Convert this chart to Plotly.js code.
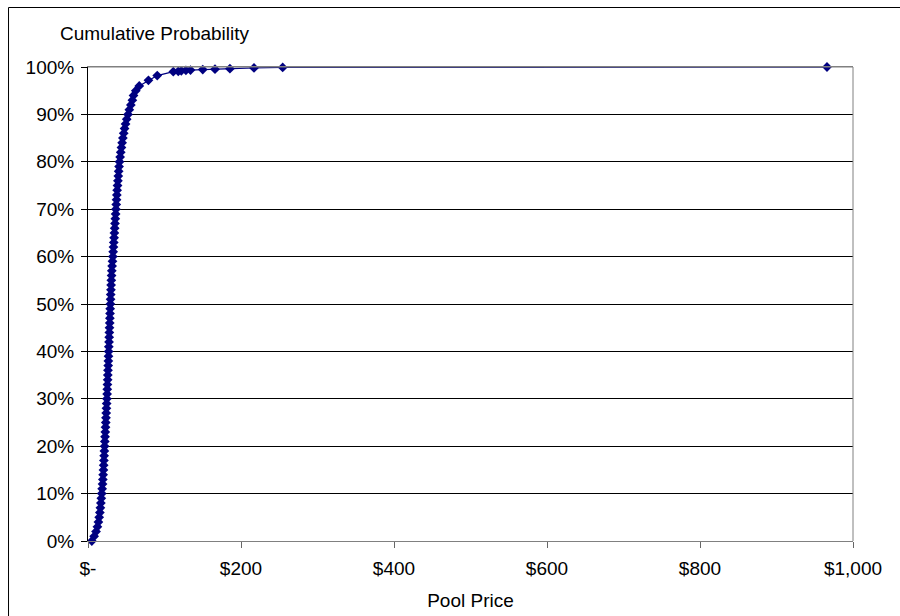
<!DOCTYPE html>
<html>
<head>
<meta charset="utf-8">
<script src="https://cdn.plot.ly/plotly-3.0.1.min.js"></script>
<style>
  html, body { margin: 0; padding: 0; background: #fff; }
  #chart { width: 900px; height: 616px; }
</style>
</head>
<body>
<div id="chart"></div>
<script>
// Cumulative distribution of pool price ($) against cumulative probability (%)
const poolPrice = [
  5, 8, 10.5, 12.3, 13.6, 14.6, 15.5, 16.2, 16.8, 17.4,
  18, 18.5, 19, 19.4, 19.8, 20.2, 20.5, 20.8, 21.1, 21.4,
  21.7, 22, 22.3, 22.6, 22.9, 23.2, 23.5, 23.8, 24.1, 24.4,
  24.7, 25, 25.2, 25.4, 25.7, 25.9, 26.1, 26.4, 26.6, 26.8,
  27, 27.2, 27.5, 27.7, 27.9, 28.1, 28.4, 28.6, 28.8, 29,
  29.3, 29.5, 29.7, 30, 30.2, 30.5, 30.8, 31.1, 31.5, 32,
  32.5, 32.9, 33.3, 33.7, 34.1, 34.5, 34.9, 35.3, 35.7, 36.1,
  36.5, 36.9, 37.3, 37.7, 38.1, 38.6, 39.1, 39.6, 40.1, 40.6,
  41.2, 42, 42.8, 43.7, 44.6, 45.6, 46.7, 47.8, 49.1, 50.6,
  52.3, 54, 56, 58, 59.5, 62.5, 67,
  79, 90.5, 111.5, 118, 122, 128, 134, 150, 166, 185.5, 217, 254.5, 966
];
const cumProbPct = [
  0, 1, 2, 3, 4, 5, 6, 7, 8, 9,
  10, 11, 12, 13, 14, 15, 16, 17, 18, 19,
  20, 21, 22, 23, 24, 25, 26, 27, 28, 29,
  30, 31, 32, 33, 34, 35, 36, 37, 38, 39,
  40, 41, 42, 43, 44, 45, 46, 47, 48, 49,
  50, 51, 52, 53, 54, 55, 56, 57, 58, 59,
  60, 61, 62, 63, 64, 65, 66, 67, 68, 69,
  70, 71, 72, 73, 74, 75, 76, 77, 78, 79,
  80, 81, 82, 83, 84, 85, 86, 87, 88, 89,
  90, 91, 92, 93, 94, 95, 96,
  97.2, 98.2, 99.0, 99.1, 99.2, 99.3, 99.35, 99.45, 99.55, 99.65, 99.8, 99.9, 100
];

const xTickVals = [0, 200, 400, 600, 800, 1000];
const xTickText = ['$-', '$200', '$400', '$600', '$800', '$1,000'];
const yTickVals = [0, 10, 20, 30, 40, 50, 60, 70, 80, 90, 100];
const yTickText = ['0%', '10%', '20%', '30%', '40%', '50%', '60%', '70%', '80%', '90%', '100%'];

const navy = '#000080';
const font = { family: '"Liberation Sans", Arial, sans-serif', size: 19, color: '#000' };

const trace = {
  x: poolPrice,
  y: cumProbPct,
  type: 'scatter',
  mode: 'lines+markers',
  line: { color: navy, width: 1.3 },
  marker: { symbol: 'diamond', size: 7.5, color: navy },
  cliponaxis: false,
  hoverinfo: 'x+y'
};

const layout = {
  width: 900,
  height: 616,
  margin: { l: 88, r: 47, t: 67, b: 75 },
  paper_bgcolor: '#fff',
  plot_bgcolor: '#fff',
  font: font,
  showlegend: false,
  xaxis: {
    range: [0, 1000],
    tickvals: xTickVals,
    ticktext: xTickText,
    ticks: 'outside',
    ticklen: 6,
    tickcolor: '#666',
    ticklabelstandoff: 4,
    showgrid: false,
    zeroline: false,
    showline: true,
    linecolor: '#808080',
    linewidth: 1,
    mirror: true,
    tickfont: font,
    title: { text: 'Pool Price', font: font, standoff: 15 }
  },
  yaxis: {
    range: [0, 100],
    tickvals: yTickVals,
    ticktext: yTickText,
    ticks: 'outside',
    ticklen: 6,
    tickcolor: '#000',
    ticklabelstandoff: 3,
    showgrid: true,
    gridcolor: '#000',
    gridwidth: 1,
    zeroline: false,
    showline: true,
    linecolor: '#000',
    linewidth: 1,
    tickfont: font
  },
  shapes: [
    // right edge of the plot area
    { type: 'line', xref: 'paper', yref: 'paper', x0: 1, x1: 1, y0: 0, y1: 1,
      line: { color: '#808080', width: 1 } },
    // top edge of the plot area
    { type: 'line', xref: 'paper', yref: 'paper', x0: 0, x1: 1, y0: 1, y1: 1,
      line: { color: '#808080', width: 1 } },
    // outer chart frame (left and top edges)
    { type: 'path', xref: 'paper', yref: 'paper',
      path: 'M -0.1039 -0.2 L -0.1039 1.1255 L 1.2 1.1255',
      line: { color: '#000', width: 1 } }
  ],
  annotations: [
    { text: 'Cumulative Probability', xref: 'paper', yref: 'paper',
      x: -0.0392, y: 1.0717, xanchor: 'left', yanchor: 'middle',
      showarrow: false, font: font }
  ]
};

Plotly.newPlot('chart', [trace], layout, { displayModeBar: false, staticPlot: true });
</script>
</body>
</html>
